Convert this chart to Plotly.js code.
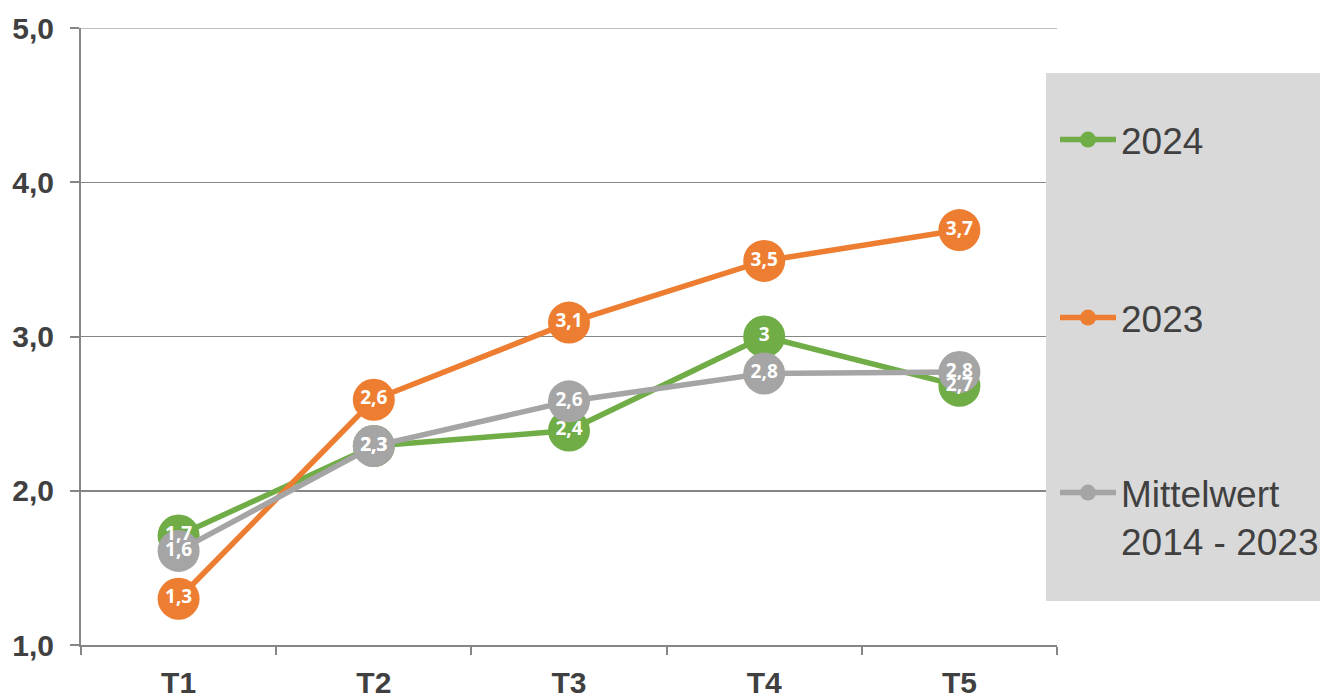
<!DOCTYPE html>
<html>
<head>
<meta charset="utf-8">
<script src="https://cdn.plot.ly/plotly-3.0.1.min.js"></script>
<style>html,body{margin:0;padding:0;background:#fff;}#chart{width:1320px;height:696px;}</style>
</head>
<body>
<div id="chart"></div>
<script>
const categories = ['T1', 'T2', 'T3', 'T4', 'T5'];
const values2024 = [1.71, 2.29, 2.39, 3.0, 2.68];
const values2023 = [1.30, 2.59, 3.09, 3.49, 3.69];
const valuesMittel = [1.61, 2.29, 2.58, 2.76, 2.77];
const yTickVals = [1, 2, 3, 4, 5];
const yTickText = ['1,0', '2,0', '3,0', '4,0', '5,0'];

const seriesNames = ['2024', '2023', 'Mittelwert<br>2014 - 2023'];
const seriesColors = ['#70AD47', '#ED7D31', '#A5A5A5'];
const seriesValues = [values2024, values2023, valuesMittel];
const legendIds = ['legend', 'legend2', 'legend3'];

function fmt(v) {
  return (Math.round(v * 10) / 10).toString().replace('.', ',');
}

const traces = [];
seriesValues.forEach((vals, i) => {
  traces.push({
    type: 'scatter', mode: 'lines+markers',
    x: categories, y: vals, name: seriesNames[i],
    line: {color: seriesColors[i], width: 5.5},
    marker: {color: seriesColors[i], size: 42},
    legend: legendIds[i],
    hoverinfo: 'skip', cliponaxis: false
  });
});
seriesValues.forEach((vals, i) => {
  traces.push({
    type: 'scatter', mode: 'text',
    x: categories, y: vals, text: vals.map(fmt),
    textposition: 'middle center',
    textfont: {family: 'Open Sans, Liberation Sans, Arial', size: 19, color: '#FFFFFF', weight: 700},
    showlegend: false, hoverinfo: 'skip', cliponaxis: false
  });
});

const L = 81, R = 263, T = 28, B = 51;
const plotW = 1320 - L - R, plotH = 696 - T - B;
function px2x(px) { return (px - L) / plotW; }
function py2y(py) { return (696 - B - py) / plotH; }

const legendFont = {family: 'Liberation Sans, Arial, sans-serif', size: 37, color: '#404040'};
function legendAt(yPx, anchor) {
  return {
    x: px2x(1055), xanchor: 'left', y: py2y(yPx), yanchor: anchor,
    bgcolor: 'rgba(0,0,0,0)', borderwidth: 0, font: legendFont,
    itemwidth: 56, valign: 'top', itemclick: false, itemdoubleclick: false
  };
}

const layout = {
  width: 1320, height: 696,
  margin: {l: L, r: R, t: T, b: B, autoexpand: false},
  paper_bgcolor: '#FFFFFF', plot_bgcolor: '#FFFFFF',
  showlegend: true,
  legend: legendAt(140, 'middle'),
  legend2: legendAt(318, 'middle'),
  legend3: legendAt(462, 'top'),
  xaxis: {
    type: 'category', range: [-0.5, 4.5], fixedrange: true,
    showline: true, linecolor: '#868686', linewidth: 2,
    ticks: 'outside', tickson: 'boundaries', ticklen: 8, tickwidth: 2, tickcolor: '#868686',
    showgrid: false, zeroline: false,
    tickfont: {family: 'Liberation Sans, Arial, sans-serif', size: 30, color: '#404040', weight: 700},
    ticklabelstandoff: 10
  },
  yaxis: {
    range: [1, 5], fixedrange: true,
    tickvals: yTickVals, ticktext: yTickText,
    showline: true, linecolor: '#868686', linewidth: 2,
    ticks: 'outside', ticklen: 9, tickwidth: 2, tickcolor: '#868686',
    showgrid: true, gridcolor: '#868686', gridwidth: 1.5, zeroline: false,
    tickfont: {family: 'Liberation Sans, Arial, sans-serif', size: 30, color: '#404040', weight: 700},
    ticklabelstandoff: 10
  },
  shapes: [
    {type: 'rect', xref: 'paper', yref: 'paper', x0: px2x(1046), x1: px2x(1320), y0: py2y(601), y1: py2y(73),
     fillcolor: '#D9D9D9', line: {width: 0}, layer: 'above'},
    {type: 'line', xref: 'paper', yref: 'y', x0: 0, x1: 1, y0: 5, y1: 5,
     line: {color: '#C0C0C0', width: 2}, layer: 'between'},
    {type: 'line', xref: 'paper', yref: 'y', x0: 0, x1: 1, y0: 2, y1: 2,
     line: {color: '#000000', width: 1.5}, layer: 'between'}
  ]
};

Plotly.newPlot('chart', traces, layout, {displayModeBar: false, staticPlot: true});
</script>
</body>
</html>
